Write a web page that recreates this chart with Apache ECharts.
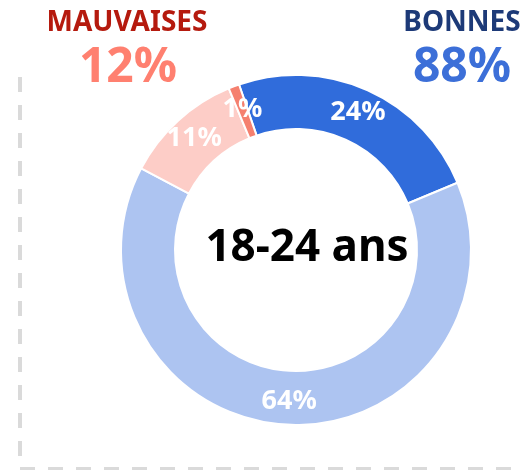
<!DOCTYPE html>
<html>
<head>
<meta charset="utf-8">
<script src="https://cdn.jsdelivr.net/npm/echarts@6/dist/echarts.min.js"></script>
<style>
html,body{margin:0;padding:0;background:#fff;}
#chart{width:523px;height:470px;}
</style>
</head>
<body>
<div id="chart"></div>
<script>
const categories = ['Bonnes (forte)', 'Bonnes', 'Mauvaises', 'Mauvaises (forte)'];
const values = [24, 64, 11, 1];
const sliceColors = ['#306CDB', '#ADC4F1', '#FDCDC7', '#F5806F'];
const centerLabel = '18-24 ans';
const leftTitle = 'MAUVAISES';
const leftValue = '12%';
const rightTitle = 'BONNES';
const rightValue = '88%';

const FONT = '"Noto Sans", sans-serif';
const chart = echarts.init(document.getElementById('chart'), null, {renderer: 'canvas'});
chart.setOption({
  backgroundColor: '#ffffff',
  animation: false,
  series: [{
    type: 'pie',
    center: [296, 250],
    radius: [121, 175],
    startAngle: 109,
    clockwise: true,
    avoidLabelOverlap: false,
    itemStyle: {borderColor: '#ffffff', borderWidth: 2},
    label: {
      show: true,
      position: 'inside',
      formatter: p => p.value + '%',
      color: '#ffffff',
      fontFamily: FONT,
      fontWeight: 'bold',
      fontSize: 27
    },
    labelLine: {show: false},
    emphasis: {disabled: true},
    data: categories.map((c, i) => ({name: c, value: values[i], itemStyle: {color: sliceColors[i]}}))
  }],
  graphic: [
    {type: 'line', shape: {x1: 20, y1: 77, x2: 20, y2: 468}, style: {stroke: '#DADADA', lineWidth: 4, lineDash: [15, 13]}},
    {type: 'line', shape: {x1: 20, y1: 469, x2: 523, y2: 469}, style: {stroke: '#DADADA', lineWidth: 4, lineDash: [15, 13]}},
    {type: 'text', x: 127, y: 23, style: {text: leftTitle, fill: '#B51A0E', font: 'bold 28px ' + FONT, textAlign: 'center', textVerticalAlign: 'middle'}},
    {type: 'text', x: 128, y: 68, style: {text: leftValue, fill: '#FF8070', font: 'bold 48px ' + FONT, textAlign: 'center', textVerticalAlign: 'middle'}},
    {type: 'text', x: 462, y: 23, style: {text: rightTitle, fill: '#1D3A78', font: 'bold 28px ' + FONT, textAlign: 'center', textVerticalAlign: 'middle'}},
    {type: 'text', x: 462, y: 68, style: {text: rightValue, fill: '#3C6FD8', font: 'bold 48px ' + FONT, textAlign: 'center', textVerticalAlign: 'middle'}},
    {type: 'text', x: 307, y: 248, style: {text: centerLabel, fill: '#000000', font: 'bold 44px ' + FONT, textAlign: 'center', textVerticalAlign: 'middle'}}
  ]
});
</script>
</body>
</html>
